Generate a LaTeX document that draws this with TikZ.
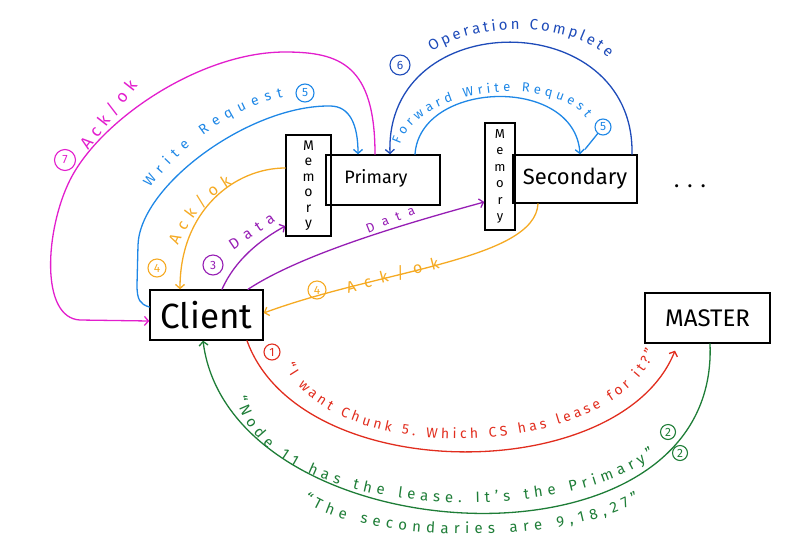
\documentclass[tikz,border=0pt]{standalone}
\usepackage{fontspec}
\setmainfont{Fira Sans}
\usetikzlibrary{arrows.meta,decorations.text,calc}
\definecolor{cmag}{RGB}{226,30,205}
\definecolor{clblue}{RGB}{30,135,230}
\definecolor{cdblue}{RGB}{30,75,185}
\definecolor{corange}{RGB}{245,170,35}
\definecolor{cpurple}{RGB}{150,30,180}
\definecolor{cred}{RGB}{225,45,30}
\definecolor{cgreen}{RGB}{30,125,55}
\begin{document}
\begin{tikzpicture}[x=1pt,y=-1pt,
  box/.style={draw=black,line width=1.4pt,inner sep=0pt},
  conn/.style={line width=1.3pt,line cap=round,-{Straight Barb[length=4pt,width=9pt,line width=1.3pt]}},
  plain/.style={line width=1.3pt,line cap=round},
  num/.style={circle,draw,line width=1.1pt,inner sep=0pt,font=\fontsize{12}{12}\selectfont},
  lbl/.style={decorate,decoration={text along path,text align=fit to path,text={#1}}}
  ]
\useasboundingbox (0,0) rectangle (799,552);

% nodes
\node[box,minimum width=113pt,minimum height=50pt] (client) at (206.5,315) {\fontsize{35}{35}\selectfont Client};
\node[box,minimum width=45pt,minimum height=101pt,align=center,font=\fontsize{14}{15.5}\selectfont] (pmem) at (308.5,185.5) {M\\e\\m\\o\\r\\y};
\node[box,minimum width=114pt,minimum height=50pt] (primary) at (383,180) {\raisebox{7pt}{\fontsize{18}{18}\selectfont Primary\hspace{14pt}}};
\node[box,minimum width=30pt,minimum height=107pt,align=center,font=\fontsize{13}{16.5}\selectfont] (smem) at (500,176.5) {M\\e\\m\\o\\r\\y};
\node[box,minimum width=124pt,minimum height=48pt] (secondary) at (575,179) {\fontsize{22}{22}\selectfont Secondary};
\node (dots) at (690,186) {\fontsize{22}{22}\selectfont .\hspace{8pt}.\hspace{8pt}.};
\node[box,minimum width=125pt,minimum height=50pt] (master) at (707.5,318) {\fontsize{24}{24}\selectfont MASTER};

% 7 Ack/ok (magenta)
\draw[conn,cmag] ([xshift=-8pt]primary.north) .. controls (375,65) and (340,52) .. (285,52) .. controls (200,52) and (100,120) .. (70,180) .. controls (45,230) and (40,318) .. (80,320) -- ([yshift=-6pt]client.west);
\path[lbl={|\color{cmag}\fontsize{17}{17}\selectfont|Ack/ok}] (88,150) -- (138,86);
\node[num,cmag,minimum size=21pt] (n7) at (65,160) {7};

% 5 Write Request (light blue)
\draw[conn,clblue] ([yshift=8pt]client.west) .. controls (140,304) and (137,300) .. (137,285) -- (138,245) .. controls (140,185) and (250,105) .. (330,106) .. controls (350,106) and (358,125) .. ([xshift=-25pt]primary.north);
\path[lbl={|\color{clblue}\fontsize{14}{14}\selectfont|Write Request}] (150,188) .. controls (182,145) and (232,108) .. (283,97);
\node[num,clblue,minimum size=18pt] (n5a) at (305,93) {5};

% 6 Operation Complete (dark blue)
\draw[conn,cdblue] ([xshift=57pt]secondary.north) .. controls (635,5) and (385,5) .. ([xshift=7pt]primary.north);
\path[lbl={|\color{cdblue}\fontsize{15}{15}\selectfont|Operation Complete}] (432,52) .. controls (475,22) and (570,20) .. (608,58);
\node[num,cdblue,minimum size=20pt] (n6) at (400,65) {6};

% 5 Forward Write Request (light blue)
\draw[conn,clblue] ([xshift=32pt]primary.north) .. controls (420,80) and (575,75) .. ([xshift=5pt]secondary.north);
\path[lbl={|\color{clblue}\fontsize{13}{13}\selectfont|Forward Write Request}] (400,145) .. controls (420,85) and (555,75) .. (586,118);
\node[num,clblue,minimum size=16pt] (n5b) at (603,127) {5};
\draw[plain,clblue] (n5b) -- ([xshift=10pt,yshift=5pt]secondary.north);

% 4 Ack/ok from primary memory (orange)
\draw[conn,corange] ([yshift=17.5pt]pmem.west) .. controls (235,168) and (180,210) .. ([xshift=-26.5pt]client.north);
\path[lbl={|\color{corange}\fontsize{16}{16}\selectfont|Ack/ok}] (178,246) .. controls (190,220) and (205,200) .. (232,184);
\node[num,corange,minimum size=18pt] (n4a) at (157,268) {4};

% 3 Data to primary memory (purple)
\draw[conn,cpurple] ([xshift=15.5pt]client.north) .. controls (235,260) and (260,240) .. ([yshift=-40.5pt]pmem.west);
\path[lbl={|\color{cpurple}\fontsize{15}{15}\selectfont|Data}] (233,250) -- (276,221);
\node[num,cpurple,minimum size=20pt] (n3) at (213,265) {3};

% Data to secondary memory (purple)
\draw[conn,cpurple] ([xshift=41.5pt]client.north) .. controls (300,255) and (400,225) .. ([yshift=-25.5pt]smem.west);
\path[lbl={|\color{cpurple}\fontsize{13}{13}\selectfont|Data}] (368,233) -- (416,214);

% 4 Ack/ok from secondary (orange)
\draw[conn,corange] ([xshift=-37pt]secondary.south) .. controls (535,260) and (380,270) .. ([yshift=2pt]client.east);
\path[lbl={|\color{corange}\fontsize{16}{16}\selectfont|Ack/ok}] (348,293) -- (440,268);
\node[num,corange,minimum size=18pt] (n4b) at (317,290) {4};

% 1 request to master (red)
\draw[conn,cred] ([xshift=40.5pt]client.south) .. controls (300,487) and (620,487) .. ([xshift=-32.5pt,yshift=-7pt]master.south);
\path[lbl={|\color{cred}\fontsize{14}{14}\selectfont|“I want Chunk 5. Which CS has lease for it?”}] (285,365) .. controls (330,468) and (610,462) .. (655,352);
\node[num,cred,minimum size=16pt] (n1) at (272,352) {1};

% 2 reply from master (green)
\draw[conn,cgreen] ([xshift=2.5pt]master.south) .. controls (720,585) and (230,555) .. ([xshift=-3.5pt]client.south);
\path[lbl={|\color{cgreen}\fontsize{15}{15}\selectfont|“Node 11 has the lease. It's the Primary”}] (236,397) .. controls (262,520) and (560,530) .. (655,455);
\path[lbl={|\color{cgreen}\fontsize{15}{15}\selectfont|“The secondaries are 9{,}18{,}27”}] (303,500) .. controls (350,540) and (560,550) .. (640,500);
\node[num,cgreen,minimum size=15pt] (n2a) at (668,432) {2};
\node[num,cgreen,minimum size=15pt] (n2b) at (680,453) {2};
\end{tikzpicture}
\end{document}
